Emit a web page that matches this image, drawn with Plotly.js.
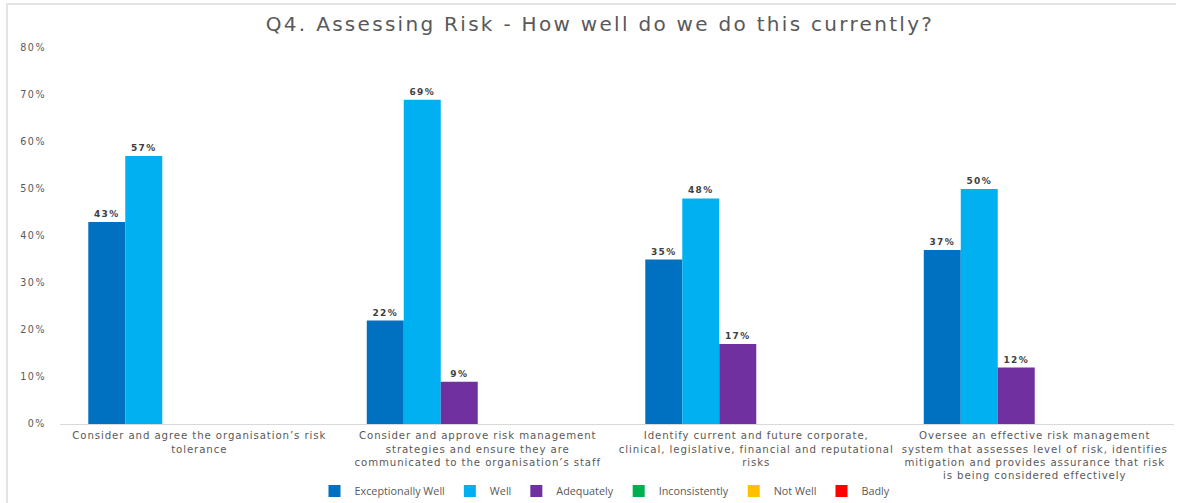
<!DOCTYPE html>
<html>
<head>
<meta charset="utf-8">
<script src="https://cdn.plot.ly/plotly-3.0.1.min.js"></script>
<style>
  html, body { margin: 0; padding: 0; background: #fff; }
  #wrap { position: relative; width: 1189px; height: 503px; }
  #chart { position: absolute; left: 0; top: 0; width: 1189px; height: 503px; }
  #frame { position: absolute; left: 6px; top: 3px; width: 1168px; height: 500px;
           border-left: 2px solid #e3e3e3; border-top: 2px solid #e3e3e3; pointer-events: none; }
  .gtitle { letter-spacing: 2.3px; }
  .xtick text { letter-spacing: 0.9px; }
  .ytick text { letter-spacing: 1.5px; }
  .bartext { letter-spacing: 1.3px; }
</style>
</head>
<body>
<div id="wrap">
  <div id="chart"></div>
  <div id="frame"></div>
</div>
<script>
const categories = [
  "Consider and agree the organisation’s risk<br>tolerance",
  "Consider and approve risk management<br>strategies and ensure they are<br>communicated to the organisation’s staff",
  "Identify current and future corporate,<br>clinical, legislative, financial and reputational<br>risks",
  "Oversee an effective risk management<br>system that assesses level of risk, identifies<br>mitigation and provides assurance that risk<br>is being considered effectively"
];
const seriesNames = ["Exceptionally Well", "Well", "Adequately", "Inconsistently", "Not Well", "Badly"];
const exceptionallyWell = [43, 22, 35, 37];
const well = [57, 69, 48, 50];
const adequately = [null, 9, 17, 12];
const inconsistently = [null, null, null, null];
const notWell = [null, null, null, null];
const badly = [null, null, null, null];
const seriesColors = ["#0070C0", "#00B0F0", "#7030A0", "#00B050", "#FFC000", "#FF0000"];
const yTickVals = [0, 10, 20, 30, 40, 50, 60, 70, 80];
const yTickLabels = ["0%", "10%", "20%", "30%", "40%", "50%", "60%", "70%", "80%"];

const allSeries = [exceptionallyWell, well, adequately, inconsistently, notWell, badly];
const FONT = "DejaVu Sans, Verdana, sans-serif";
const LFONT = "Open Sans, Liberation Sans, sans-serif";

const traces = allSeries.map((vals, i) => ({
  type: "bar",
  name: seriesNames[i],
  x: categories,
  y: vals,
  marker: { color: seriesColors[i], line: { width: 0 } },
  text: vals.map(v => (v === null ? "" : v + "%")),
  textposition: "outside",
  constraintext: "none",
  cliponaxis: false,
  textfont: { family: FONT, size: 9, color: "#404040", weight: "bold" },
  hoverinfo: "x+y+name"
}));

const layout = {
  width: 1189,
  height: 503,
  paper_bgcolor: "#ffffff",
  plot_bgcolor: "#ffffff",
  margin: { l: 60, r: 15, t: 48, b: 79 },
  font: { family: FONT, color: "#595959" },
  title: {
    text: "Q4. Assessing Risk - How well do we do this currently?",
    font: { family: FONT, size: 20, color: "#595959" },
    x: 600 / 1189, xref: "container", xanchor: "center",
    y: 1 - 24 / 503, yref: "container", yanchor: "middle"
  },
  barmode: "group",
  bargap: 0.203,
  bargroupgap: 0,
  xaxis: {
    type: "category",
    showgrid: false,
    zeroline: false,
    showline: true,
    linecolor: "#d9d9d9",
    linewidth: 1,
    ticks: "",
    tickangle: 0,
    ticklabelstandoff: 2,
    tickfont: { family: FONT, size: 10.2, color: "#595959" },
    automargin: false
  },
  yaxis: {
    range: [0, 80],
    tickmode: "array",
    tickvals: yTickVals,
    ticktext: yTickLabels,
    showgrid: false,
    zeroline: false,
    showline: false,
    ticks: "",
    ticklabelstandoff: 13,
    tickfont: { family: FONT, size: 9.6, color: "#595959" },
    automargin: false
  },
  showlegend: true,
  legend: {
    orientation: "h",
    xref: "container", x: 605 / 1189, xanchor: "center",
    yref: "container", y: 1 - 491 / 503, yanchor: "middle",
    font: { family: LFONT, size: 10.8, color: "#595959" },
    traceorder: "normal",
    itemwidth: 30
  }
};

Plotly.newPlot("chart", traces, layout, { displayModeBar: false, staticPlot: true });
</script>
</body>
</html>
